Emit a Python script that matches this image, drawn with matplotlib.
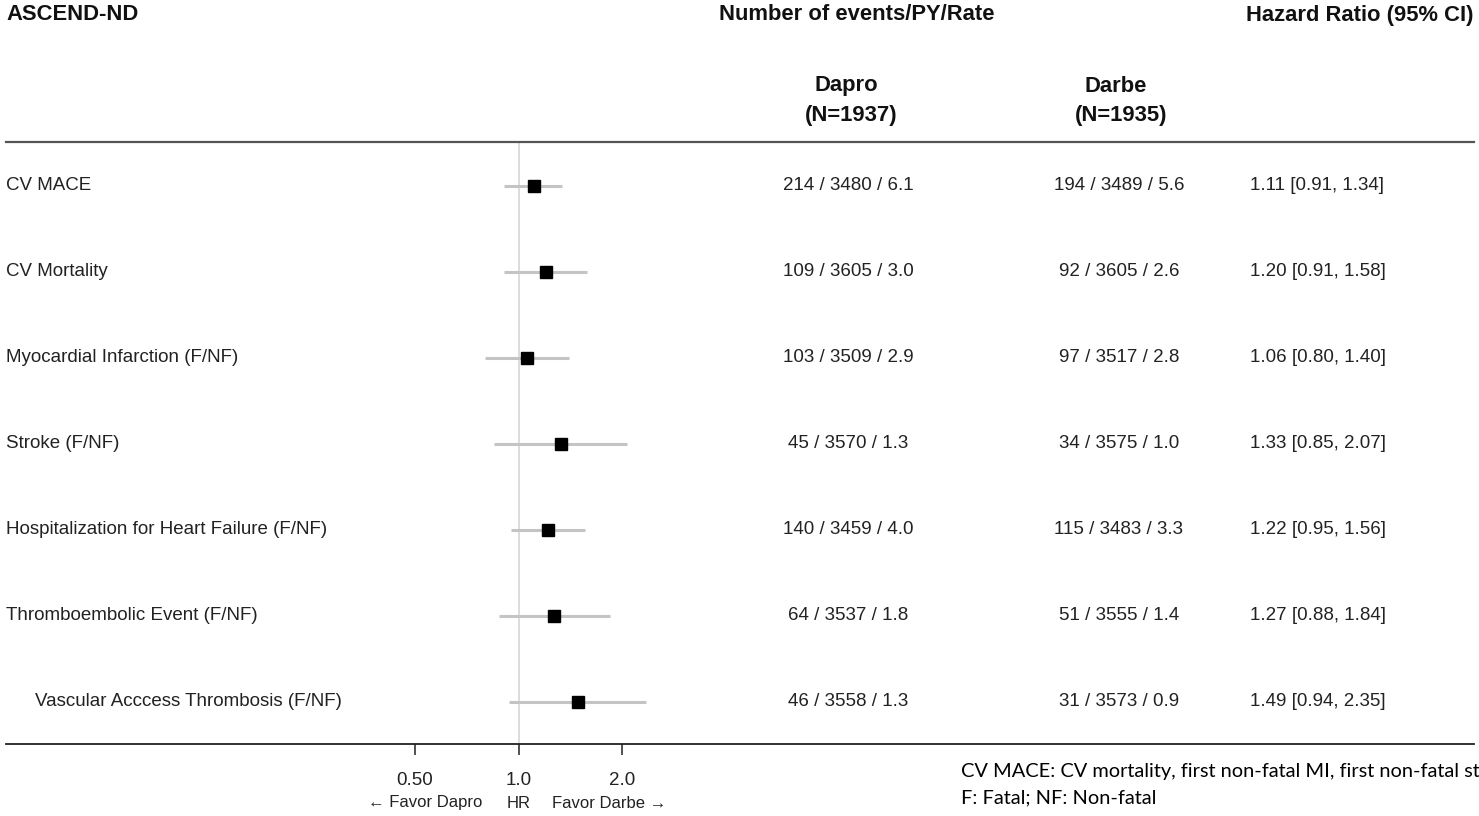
import numpy as np
import matplotlib
matplotlib.use("Agg")
import matplotlib.pyplot as plt
from matplotlib.lines import Line2D
import matplotlib.transforms as mtransforms

plt.rcParams['font.family'] = ['Liberation Sans', 'DejaVu Sans']

# data
labels = ["CV MACE", "CV Mortality", "Myocardial Infarction (F/NF)", "Stroke (F/NF)",
          "Hospitalization for Heart Failure (F/NF)", "Thromboembolic Event (F/NF)",
          "Vascular Acccess Thrombosis (F/NF)"]
indent = [False, False, False, False, False, False, True]
dapro = ["214 / 3480 / 6.1", "109 / 3605 / 3.0", "103 / 3509 / 2.9", "45 / 3570 / 1.3",
         "140 / 3459 / 4.0", "64 / 3537 / 1.8", "46 / 3558 / 1.3"]
darbe = ["194 / 3489 / 5.6", "92 / 3605 / 2.6", "97 / 3517 / 2.8", "34 / 3575 / 1.0",
         "115 / 3483 / 3.3", "51 / 3555 / 1.4", "31 / 3573 / 0.9"]
hr = [1.11, 1.20, 1.06, 1.33, 1.22, 1.27, 1.49]
lo = [0.91, 0.91, 0.80, 0.85, 0.95, 0.88, 0.94]
hi = [1.34, 1.58, 1.40, 2.07, 1.56, 1.84, 2.35]
xticks = [0.5, 1.0, 2.0]
xticklabels = ["0.50", "1.0", "2.0"]

W, H = 1479, 816
fig = plt.figure(figsize=(W / 100, H / 100), dpi=100)


def fx(px):
    return px / W


def fy(py):
    return 1 - py / H


# forest axes: x 415..622 px (0.5..2.0), y 142..744 px, rows every 86 px from 186
ax = fig.add_axes([fx(415), fy(744), fx(622) - fx(415), (744 - 142) / H])
ax.set_xscale('log', base=2)
ax.set_xlim(0.5, 2.0)
ax.set_ylim((744 - 186) / 86, (142 - 186) / 86)
for s in ax.spines.values():
    s.set_visible(False)
ax.set_yticks([])
ax.set_xticks(xticks)
ax.set_xticklabels(xticklabels)
ax.xaxis.set_minor_locator(matplotlib.ticker.NullLocator())
ax.tick_params(axis='x', length=8, width=1.2, color='#333333', pad=12, labelsize=13.5,
               labelcolor='#222222')

rows = np.arange(len(labels))
ax.axvline(1.0, color='#d6d6d6', lw=1.2, zorder=1)
ax.hlines(rows, lo, hi, color='#c4c4c4', lw=2.2, clip_on=False, zorder=2)
ax.plot(hr, rows, 's', color='black', ms=8, clip_on=False, zorder=3)

# row texts
tr = mtransforms.blended_transform_factory(fig.transFigure, ax.transData)
for i in rows:
    ax.text(fx(35 if indent[i] else 6), i, labels[i], transform=tr, ha='left', va='center',
            fontsize=13.5, color='#222222')
    ax.text(fx(848), i, dapro[i], transform=tr, ha='center', va='center',
            fontsize=13.5, color='#222222')
    ax.text(fx(1119), i, darbe[i], transform=tr, ha='center', va='center',
            fontsize=13.5, color='#222222')
    ax.text(fx(1250), i, f"{hr[i]:.2f} [{lo[i]:.2f}, {hi[i]:.2f}]", transform=tr,
            ha='left', va='center', fontsize=13.5, color='#222222')

# headers
hdr = dict(fontsize=15.8, fontweight='bold', color='#111111', va='center')
fig.text(fx(6), fy(15), "ASCEND-ND", ha='left', **hdr)
fig.text(fx(857), fy(15), "Number of events/PY/Rate", ha='center', **hdr)
fig.text(fx(1473), fy(15), "Hazard Ratio (95% CI)", ha='right', **hdr)
fig.text(fx(846), fy(86), "Dapro", ha='center', **hdr)
fig.text(fx(851), fy(116), "(N=1937)", ha='center', **hdr)
fig.text(fx(1116), fy(86), "Darbe", ha='center', **hdr)
fig.text(fx(1121), fy(116), "(N=1935)", ha='center', **hdr)

# rules
fig.add_artist(Line2D([fx(6), fx(1474)], [fy(142), fy(142)], color='#555555', lw=1.6))
fig.add_artist(Line2D([fx(6), fx(1474)], [fy(744), fy(744)], color='#222222', lw=1.3))

# direction labels
fig.text(fx(425), fy(803), "\u2190 Favor Dapro", ha='center', va='center', fontsize=12,
         color='#222222')
fig.text(fx(519), fy(803), "HR", ha='center', va='center', fontsize=12, color='#222222')
fig.text(fx(609), fy(803), "Favor Darbe \u2192", ha='center', va='center', fontsize=12,
         color='#222222')

# footnote (runs off the right edge, as in the source image)
fig.text(fx(961), fy(771), "CV MACE: CV mortality, first non-fatal MI, first non-fatal stroke",
         ha='left', va='center', fontsize=14.4, family=['Lato', 'DejaVu Sans'], color='black')
fig.text(fx(961), fy(798), "F: Fatal; NF: Non-fatal", ha='left', va='center', fontsize=14.4,
         family=['Lato', 'DejaVu Sans'], color='black')

fig.savefig("out.png", dpi=100)
